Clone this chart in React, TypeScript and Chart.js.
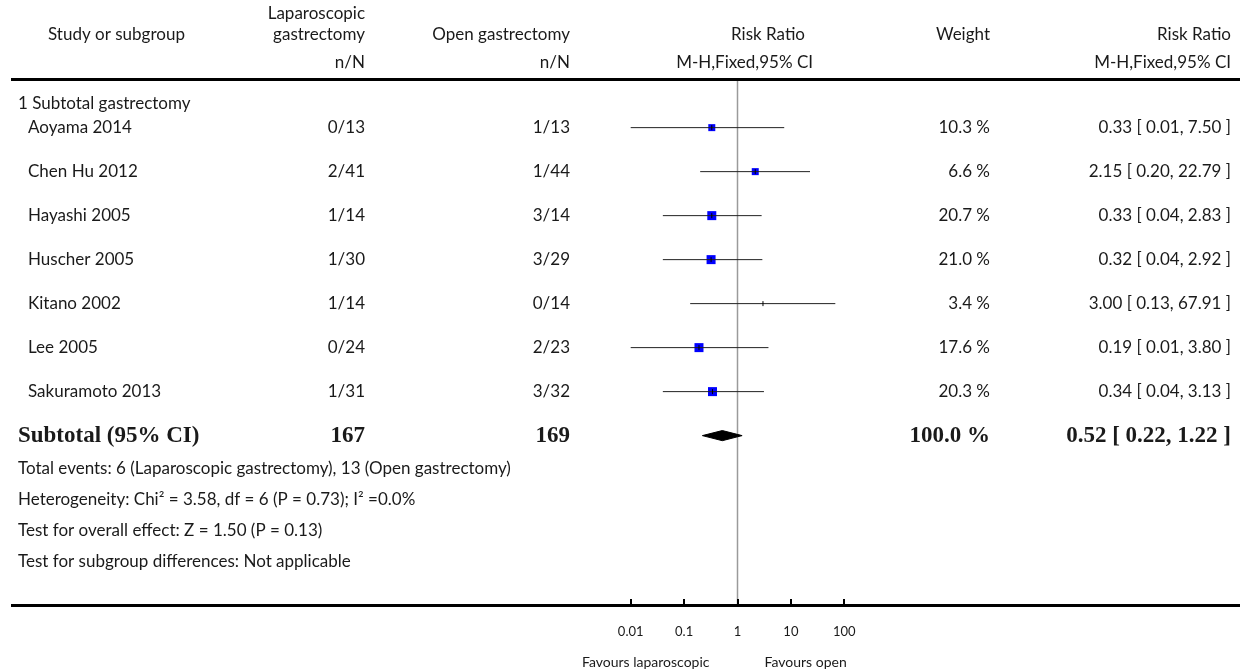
import React, { useEffect, useRef } from "react";
import { Chart, registerables } from "chart.js";

Chart.register(...registerables);

const studies = ["Aoyama 2014", "Chen Hu 2012", "Hayashi 2005", "Huscher 2005", "Kitano 2002", "Lee 2005", "Sakuramoto 2013"];
const lapEvents = [0, 2, 1, 1, 1, 0, 1];
const lapTotals = [13, 41, 14, 30, 14, 24, 31];
const openEvents = [1, 1, 3, 3, 0, 2, 3];
const openTotals = [13, 44, 14, 29, 14, 23, 32];
const weights = [10.3, 6.6, 20.7, 21.0, 3.4, 17.6, 20.3];
const riskRatios = [0.33, 2.15, 0.33, 0.32, 3.0, 0.19, 0.34];
const ciLow = [0.01, 0.2, 0.04, 0.04, 0.13, 0.01, 0.04];
const ciHigh = [7.5, 22.79, 2.83, 2.92, 67.91, 3.8, 3.13];

const subtotalLap = 167;
const subtotalOpen = 169;
const subtotalWeight = 100.0;
const subtotalRR = 0.52;
const subtotalLow = 0.22;
const subtotalHigh = 1.22;

const axisTicks = [0.01, 0.1, 1, 10, 100];
const axisTickLabels = ["0.01", "0.1", "1", "10", "100"];

const footerLines = [
  "Total events: 6 (Laparoscopic gastrectomy), 13 (Open gastrectomy)",
  "Heterogeneity: Chi\u00B2 = 3.58, df = 6 (P = 0.73); I\u00B2 =0.0%",
  "Test for overall effect: Z = 1.50 (P = 0.13)",
  "Test for subgroup differences: Not applicable",
];

const Y_MIN = -0.06;
const Y_MAX = 11.85;
const SUBTOTAL_ROW = studies.length + 1;
const DIAMOND_HALF = 0.115;

const SANS = '"Lato", "DejaVu Sans", sans-serif';
const SERIF = '"Liberation Serif", "DejaVu Serif", serif';
const TEXT = "#1a1a1a";

function squareRadius(w: number) {
  const side = w >= 15 ? 9 : w >= 5 ? 7 : 0;
  return side / (2 * Math.SQRT1_2);
}

const textPlugin = {
  id: "forestText",
  afterDraw(chart: any) {
    const ctx = chart.ctx as CanvasRenderingContext2D;
    const x = chart.scales.x;
    const y = chart.scales.y;
    ctx.save();
    ctx.fillStyle = TEXT;
    ctx.textBaseline = "middle";

    const put = (s: string, px: number, py: number, align: CanvasTextAlign, font: string) => {
      ctx.font = font;
      ctx.textAlign = align;
      ctx.fillText(s, px, py);
    };
    const body = `17px ${SANS}`;
    const bold = `bold 23px ${SERIF}`;
    const small = `14px ${SANS}`;

    // header
    put("Study or subgroup", 48, 35, "left", body);
    put("Laparoscopic", 365, 14, "right", body);
    put("gastrectomy", 365, 35, "right", body);
    put("n/N", 365, 63, "right", body);
    put("Open gastrectomy", 570, 35, "right", body);
    put("n/N", 570, 63, "right", body);
    put("Risk Ratio", 805, 35, "right", body);
    put("M-H,Fixed,95% CI", 813, 63, "right", body);
    put("Weight", 990, 35, "right", body);
    put("Risk Ratio", 1231, 35, "right", body);
    put("M-H,Fixed,95% CI", 1231, 63, "right", body);

    // header and bottom rules
    ctx.fillStyle = "#000";
    ctx.fillRect(11, 78, 1229, 3);
    ctx.fillRect(11, 604, 1229, 3);
    ctx.fillStyle = TEXT;

    // group heading
    put("1 Subtotal gastrectomy", 18, y.getPixelForValue(0.45), "left", body);

    studies.forEach((s, i) => {
      const py = y.getPixelForValue(i + 1);
      put(s, 28, py, "left", body);
      put(`${lapEvents[i]}/${lapTotals[i]}`, 365, py, "right", body);
      put(`${openEvents[i]}/${openTotals[i]}`, 570, py, "right", body);
      put(`${weights[i].toFixed(1)} %`, 990, py, "right", body);
      put(`${riskRatios[i].toFixed(2)} [ ${ciLow[i].toFixed(2)}, ${ciHigh[i].toFixed(2)} ]`, 1231, py, "right", body);
    });

    const sy = y.getPixelForValue(SUBTOTAL_ROW);
    put("Subtotal (95% CI)", 18, sy, "left", bold);
    put(String(subtotalLap), 365, sy, "right", bold);
    put(String(subtotalOpen), 570, sy, "right", bold);
    put(`${subtotalWeight.toFixed(1)} %`, 990, sy, "right", bold);
    put(`${subtotalRR.toFixed(2)} [ ${subtotalLow.toFixed(2)}, ${subtotalHigh.toFixed(2)} ]`, 1231, sy, "right", bold);

    footerLines.forEach((s, i) => {
      put(s, 18, sy + 33 + i * 31, "left", body);
    });

    // axis ticks
    axisTicks.forEach((t, i) => {
      const px = x.getPixelForValue(t);
      ctx.fillStyle = "#000";
      ctx.fillRect(Math.round(px) - 1, 599, 2, 6);
      ctx.fillStyle = TEXT;
      put(axisTickLabels[i], px, 632, "center", `13px ${SANS}`);
    });
    ctx.fillStyle = TEXT;
    const one = x.getPixelForValue(1);
    put("Favours laparoscopic", one - 28, 662, "right", small);
    put("Favours open", one + 27, 662, "left", small);
    ctx.restore();
  },
};

export default function App() {
  const ref = useRef<HTMLCanvasElement | null>(null);
  useEffect(() => {
    if (!ref.current) return;
    const ciDatasets = studies.map((s, i) => ({
      type: "line" as const,
      label: s,
      data: [
        { x: ciLow[i], y: i + 1 },
        { x: ciHigh[i], y: i + 1 },
      ],
      borderColor: "#222",
      borderWidth: 1,
      pointRadius: 0,
    }));
    const chart = new Chart(ref.current, {
      type: "scatter",
      data: {
        datasets: [
          {
            type: "scatter",
            label: "estimate ticks",
            data: riskRatios.map((r, i) => ({ x: r, y: i + 1 })),
            pointStyle: "line",
            rotation: 90,
            pointRadius: 2.5,
            borderColor: "#000",
            borderWidth: 1,
          } as any,
          ...ciDatasets,
          {
            type: "scatter",
            label: "weights",
            data: riskRatios.map((r, i) => ({ x: r, y: i + 1 })),
            pointStyle: "rect",
            pointRadius: (c: any) => squareRadius(weights[c.dataIndex]),
            backgroundColor: "#0000ff",
            borderWidth: 0,
          } as any,
          {
            type: "line",
            label: "subtotal",
            data: [
              { x: subtotalLow, y: SUBTOTAL_ROW },
              { x: subtotalRR, y: SUBTOTAL_ROW - DIAMOND_HALF },
              { x: subtotalHigh, y: SUBTOTAL_ROW },
              { x: subtotalRR, y: SUBTOTAL_ROW + DIAMOND_HALF },
              { x: subtotalLow, y: SUBTOTAL_ROW },
            ],
            borderColor: "#000",
            borderWidth: 1,
            backgroundColor: "#000",
            fill: "shape",
            pointRadius: 0,
          } as any,
          {
            type: "line",
            label: "no effect",
            data: [
              { x: 1, y: Y_MIN },
              { x: 1, y: Y_MAX },
            ],
            borderColor: "#9a9a9a",
            borderWidth: 1.5,
            pointRadius: 0,
          },
        ],
      },
      options: {
        animation: false,
        responsive: false,
        devicePixelRatio: 1,
        layout: { padding: { left: 604, right: 369, top: 81, bottom: 67 } },
        plugins: { legend: { display: false }, tooltip: { enabled: false } },
        scales: {
          x: { type: "logarithmic", min: Math.pow(10, -2.5), max: Math.pow(10, 2.5), display: false },
          y: { type: "linear", min: Y_MIN, max: Y_MAX, reverse: true, display: false },
        },
      },
      plugins: [textPlugin],
    });
    return () => chart.destroy();
  }, []);
  return (
    <div style={{ position: "fixed", left: 0, top: 0, width: 1240, height: 672, background: "#fff" }}>
      <canvas ref={ref} width={1240} height={672} />
    </div>
  );
}
